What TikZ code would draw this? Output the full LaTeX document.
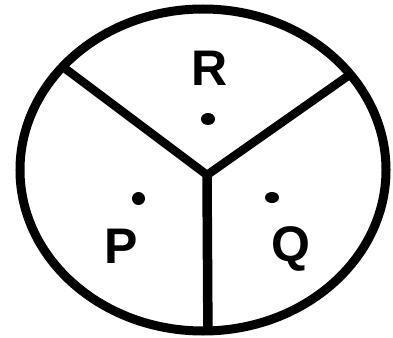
\documentclass[tikz,border=0pt]{standalone}
\usepackage{fontspec}
\setmainfont{Liberation Sans}
\usetikzlibrary{shapes.geometric}
\begin{document}
\begin{tikzpicture}[x=1pt,y=-1pt,
  rim/.style={line width=9pt},
  spoke/.style={line width=8.5pt},
  spot/.style={ellipse,fill=black,inner sep=0pt,minimum width=14pt,minimum height=12pt},
  lab/.style={font=\fontsize{50}{50}\selectfont\bfseries,inner sep=0pt,anchor=base}]
\useasboundingbox (0,0) rectangle (393,337);
\coordinate (c) at (203,170);
\coordinate (j) at (207,175);
\coordinate (l) at (55,61);
\coordinate (r) at (365,64);
\coordinate (b) at (208,345);
\begin{scope}
\clip (c) ellipse [x radius=183, y radius=161];
\draw[spoke] (l) -- (j) -- (r);
\draw[spoke,line width=9.5pt] (j) -- (b);
\end{scope}
\draw[rim] (c) ellipse [x radius=183, y radius=161];
\node[spot] (dr) at (208,119) {};
\node[spot,minimum width=13pt,minimum height=13pt] (dp) at (138.5,198.5) {};
\node[spot,minimum height=11pt] (dq) at (272,197.5) {};
\node[lab] (R) at (209.5,85) {R};
\node[lab] (P) at (121,263) {P};
\node[lab] (Q) at (291,261) {Q};
\end{tikzpicture}
\end{document}
